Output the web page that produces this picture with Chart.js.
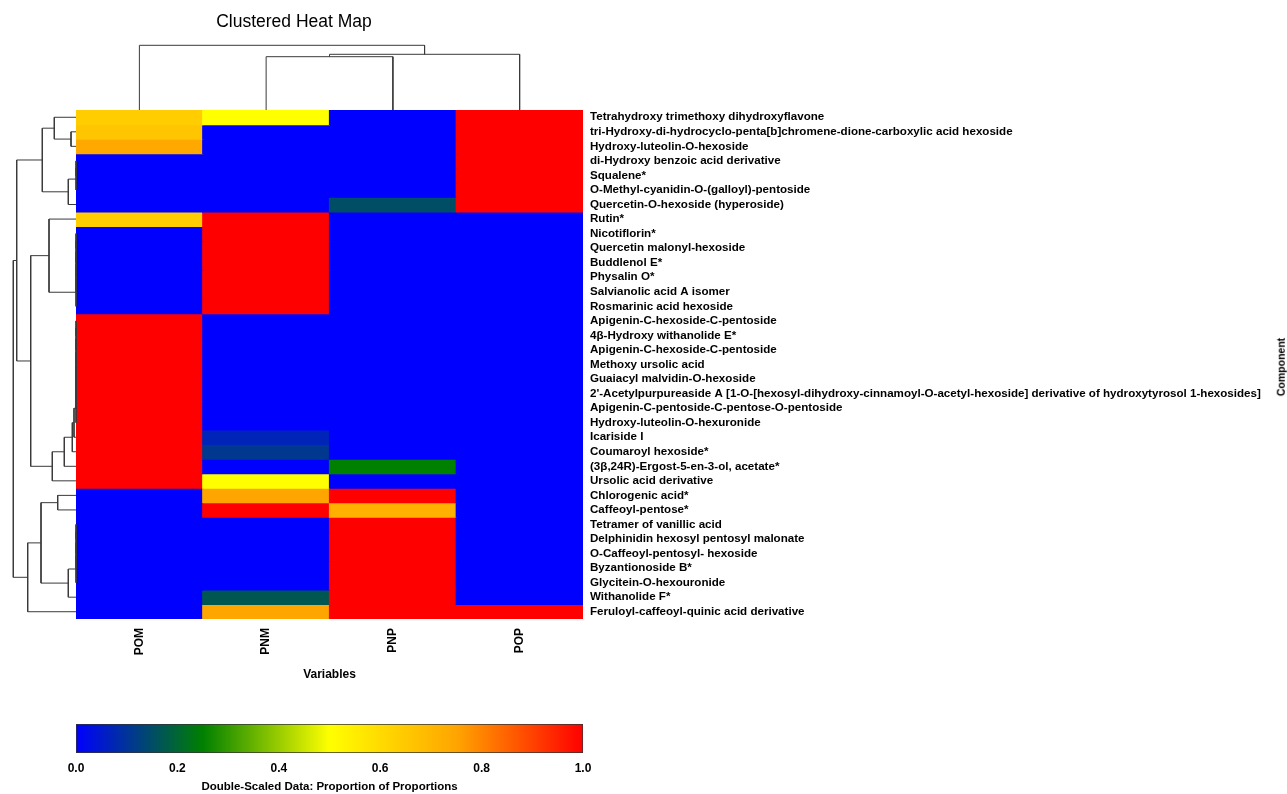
<!DOCTYPE html>
<html>
<head>
<meta charset="utf-8">
<title>Clustered Heat Map</title>
<script src="https://cdn.jsdelivr.net/npm/chart.js@4.4.1/dist/chart.umd.min.js"></script>
<style>
  html, body { margin: 0; padding: 0; background: #ffffff; }
  #wrap { position: relative; width: 1287px; height: 794px; overflow: hidden;
          font-family: "Liberation Sans", Arial, Helvetica, sans-serif; }
  #wrap canvas { position: absolute; }
  .txt { position: absolute; white-space: nowrap; color: #000; line-height: 1; }
</style>
</head>
<body>
<div id="wrap">
  <canvas id="heat" width="1287" height="794" style="left:0;top:0"></canvas>
  <canvas id="rowTree" width="100" height="794" style="left:0;top:0"></canvas>
  <canvas id="colTree" width="660" height="120" style="left:0;top:0"></canvas>
  <canvas id="scaleBar" width="660" height="94" style="left:0;top:700px"></canvas>
  <div class="txt" id="mainTitle" style="left:294px;top:22px;font-size:17.5px;transform:translate(-50%,-50%);">Clustered Heat Map</div>
  <div class="txt" id="rowTitle" style="left:1281px;top:367px;font-size:10.5px;font-weight:bold;transform:translate(-50%,-50%) rotate(-90deg);">Component</div>
</div>

<script>
// ---- data ----
const columns = ['POM', 'PNM', 'PNP', 'POP'];

const components = [
  'Tetrahydroxy trimethoxy dihydroxyflavone',
  'tri-Hydroxy-di-hydrocyclo-penta[b]chromene-dione-carboxylic acid hexoside',
  'Hydroxy-luteolin-O-hexoside',
  'di-Hydroxy benzoic acid derivative',
  'Squalene*',
  'O-Methyl-cyanidin-O-(galloyl)-pentoside',
  'Quercetin-O-hexoside (hyperoside)',
  'Rutin*',
  'Nicotiflorin*',
  'Quercetin malonyl-hexoside',
  'Buddlenol E*',
  'Physalin O*',
  'Salvianolic acid A isomer',
  'Rosmarinic acid hexoside',
  'Apigenin-C-hexoside-C-pentoside',
  '4\u03b2-Hydroxy withanolide E*',
  'Apigenin-C-hexoside-C-pentoside',
  'Methoxy ursolic acid',
  'Guaiacyl malvidin-O-hexoside',
  "2'-Acetylpurpureaside A [1-O-[hexosyl-dihydroxy-cinnamoyl-O-acetyl-hexoside] derivative of hydroxytyrosol 1-hexosides]",
  'Apigenin-C-pentoside-C-pentose-O-pentoside',
  'Hydroxy-luteolin-O-hexuronide',
  'Icariside I',
  'Coumaroyl hexoside*',
  '(3\u03b2,24R)-Ergost-5-en-3-ol, acetate*',
  'Ursolic acid derivative',
  'Chlorogenic acid*',
  'Caffeoyl-pentose*',
  'Tetramer of vanillic acid',
  'Delphinidin hexosyl pentosyl malonate',
  'O-Caffeoyl-pentosyl- hexoside',
  'Byzantionoside B*',
  'Glycitein-O-hexouronide',
  'Withanolide F*',
  'Feruloyl-caffeoyl-quinic acid derivative'
];

// double-scaled proportions, one array per variable (rows follow `components`)
const pom = [0.64, 0.66, 0.74, 0, 0, 0, 0, 0.64, 0, 0, 0, 0, 0, 0,
             1, 1, 1, 1, 1, 1, 1, 1, 1, 1, 1, 1,
             0, 0, 0, 0, 0, 0, 0, 0, 0];
const pnm = [0.50, 0, 0, 0, 0, 0, 0, 1, 1, 1, 1, 1, 1, 1,
             0, 0, 0, 0, 0, 0, 0, 0, 0.07, 0.11, 0, 0.50,
             0.75, 1, 0, 0, 0, 0, 0, 0.17, 0.75];
const pnp = [0, 0, 0, 0, 0, 0, 0.15, 0, 0, 0, 0, 0, 0, 0,
             0, 0, 0, 0, 0, 0, 0, 0, 0, 0, 0.25, 0,
             1, 0.72, 1, 1, 1, 1, 1, 1, 1];
const pop = [1, 1, 1, 1, 1, 1, 1, 0, 0, 0, 0, 0, 0, 0,
             0, 0, 0, 0, 0, 0, 0, 0, 0, 0, 0, 0,
             0, 0, 0, 0, 0, 0, 0, 0, 1];

// row clustering: merge pairs (negative = row number, positive = earlier merge step) and heights
const rowMerges = [
  [-2, -3], [-1, 1], [-4, -5], [3, -6], [4, -7], [2, 5],
  [-9, -10], [7, -11], [8, -12], [9, -13], [10, -14], [-8, 11],
  [-15, -16], [13, -17], [14, -18], [15, -19], [16, -20], [17, -21], [18, -22],
  [19, -23], [20, -24], [21, -25], [22, -26], [12, 23], [6, 24],
  [-27, -28], [-29, -30], [27, -31], [28, -32], [29, -33], [30, -34],
  [26, 31], [32, -35], [25, 33]
];
const rowHeights = [
  5.0, 21.7, 0, 0, 7.7, 33.7,
  0, 0, 0, 0, 0, 27.0,
  0, 0, 0, 0, 0, 0, 0,
  2.0, 3.7, 11.7, 23.7, 45.3, 59.3,
  18.3, 0, 0, 0, 0, 7.7,
  35.0, 48.3, 62.7
];

// column clustering
const colMerges = [[-2, -3], [1, -4], [-1, 2]];
const colHeights = [53.3, 55.7, 64.7];

// colour scale and its tick values
const colorStops = [[0, '#0000ff'], [0.25, '#008000'], [0.5, '#ffff00'], [0.75, '#ffa500'], [1, '#ff0000']];
const scaleTicks = [0, 0.2, 0.4, 0.6, 0.8, 1.0];

// ---- helpers ----
const FONT = '"Liberation Sans", Arial, Helvetica, sans-serif';
const LINE = '#3a3a3a';

function hexToRgb(h) {
  return [parseInt(h.slice(1, 3), 16), parseInt(h.slice(3, 5), 16), parseInt(h.slice(5, 7), 16)];
}
function colorFor(v) {
  for (let i = 1; i < colorStops.length; i++) {
    const [t0, c0] = colorStops[i - 1];
    const [t1, c1] = colorStops[i];
    if (v <= t1 || i === colorStops.length - 1) {
      const f = Math.max(0, Math.min(1, (v - t0) / (t1 - t0)));
      const a = hexToRgb(c0), b = hexToRgb(c1);
      const rgb = a.map((x, k) => Math.round(x + (b[k] - x) * f));
      return `rgb(${rgb[0]},${rgb[1]},${rgb[2]})`;
    }
  }
  return colorStops[colorStops.length - 1][1];
}

// turn a merge table into dendrogram elbows: [{h, p}, ...] (h = height, p = leaf position)
function dendrogram(merges, heights) {
  const pos = [];
  const segs = [];
  const at = (m) => (m < 0 ? { p: -m - 0.5, h: 0 } : { p: pos[m - 1], h: heights[m - 1] });
  merges.forEach(([a, b], k) => {
    const A = at(a), B = at(b), H = heights[k];
    segs.push([{ h: A.h, p: A.p }, { h: H, p: A.p }, { h: H, p: B.p }, { h: B.h, p: B.p }]);
    pos[k] = (A.p + B.p) / 2;
  });
  return segs;
}

const base = {
  responsive: false,
  animation: false,
  events: [],
  plugins: { legend: { display: false }, tooltip: { enabled: false }, title: { display: false } }
};

// ---- heat map ----
const byColumn = [pom, pnm, pnp, pop];
const heatDatasets = components.map((name, i) => ({
  label: name,
  data: columns.map(() => 1),
  backgroundColor: byColumn.map(col => colorFor(col[i])),
  borderWidth: 0,
  inflateAmount: 0.6,
  barPercentage: 1,
  categoryPercentage: 1
}));

new Chart(document.getElementById('heat'), {
  type: 'bar',
  data: { labels: columns, datasets: heatDatasets },
  options: Object.assign({}, base, {
    layout: { padding: { left: 76, top: 110, right: 0, bottom: 0 } },
    scales: {
      x: {
        stacked: true,
        grid: { display: false, drawTicks: false },
        border: { display: false },
        ticks: { minRotation: 90, maxRotation: 90, padding: 9, color: '#000',
                 font: { family: FONT, size: 12, weight: 'bold' } },
        title: { display: true, text: 'Variables', color: '#000',
                 font: { family: FONT, size: 12, weight: 'bold' }, padding: { top: 0, bottom: 112 } },
        afterFit(s) { s.height = 175; }
      },
      y: {
        stacked: true,
        position: 'right',
        reverse: true,
        min: 0,
        max: components.length,
        grid: { display: false, drawTicks: false },
        border: { display: false },
        afterBuildTicks(s) { s.ticks = components.map((_, i) => ({ value: i + 0.5 })); },
        ticks: { autoSkip: false, padding: 7, color: '#000',
                 font: { family: FONT, size: 11.6, weight: 'bold' },
                 callback: (v, i) => components[i] },
        afterFit(s) { s.width = 704; }
      }
    }
  })
});

// ---- row dendrogram ----
const rowSegs = dendrogram(rowMerges, rowHeights);
new Chart(document.getElementById('rowTree'), {
  type: 'scatter',
  data: {
    datasets: rowSegs.map(seg => ({
      data: seg.map(q => ({ x: q.h, y: q.p })),
      showLine: true, borderColor: LINE, borderWidth: 1, pointRadius: 0, clip: false, tension: 0
    }))
  },
  options: Object.assign({}, base, {
    layout: { padding: { left: 13.3, right: 24, top: 110, bottom: 175 } },
    scales: {
      x: { type: 'linear', display: false, reverse: true, min: 0, max: Math.max(...rowHeights) },
      y: { type: 'linear', display: false, reverse: true, min: 0, max: components.length }
    }
  })
});

// ---- column dendrogram ----
const colSegs = dendrogram(colMerges, colHeights);
new Chart(document.getElementById('colTree'), {
  type: 'scatter',
  data: {
    datasets: colSegs.map(seg => ({
      data: seg.map(q => ({ x: q.p, y: q.h })),
      showLine: true, borderColor: LINE, borderWidth: 1, pointRadius: 0, clip: false, tension: 0
    }))
  },
  options: Object.assign({}, base, {
    layout: { padding: { left: 76, right: 77, top: 45.3, bottom: 10 } },
    scales: {
      x: { type: 'linear', display: false, min: 0, max: columns.length },
      y: { type: 'linear', display: false, min: 0, max: Math.max(...colHeights) }
    }
  })
});

// ---- colour key ----
new Chart(document.getElementById('scaleBar'), {
  type: 'bar',
  data: {
    labels: ['key'],
    datasets: [{
      data: [[scaleTicks[0], scaleTicks[scaleTicks.length - 1]]],
      backgroundColor(ctx) {
        const area = ctx.chart.chartArea;
        if (!area) return colorStops[0][1];
        const g = ctx.chart.ctx.createLinearGradient(area.left, 0, area.right, 0);
        colorStops.forEach(([t, c]) => g.addColorStop(t, c));
        return g;
      },
      borderColor: '#333333',
      borderWidth: 1,
      borderSkipped: false,
      barPercentage: 1,
      categoryPercentage: 1
    }]
  },
  options: Object.assign({}, base, {
    indexAxis: 'y',
    layout: { padding: { left: 76, right: 77, top: 24, bottom: 0 } },
    scales: {
      x: {
        type: 'linear', min: 0, max: 1,
        grid: { display: false, drawTicks: false },
        border: { display: false },
        afterBuildTicks(s) { s.ticks = scaleTicks.map(v => ({ value: v })); },
        ticks: { padding: 8, color: '#000', font: { family: FONT, size: 12, weight: 'bold' },
                 callback: v => Number(v).toFixed(1) },
        title: { display: true, text: 'Double-Scaled Data: Proportion of Proportions', color: '#000',
                 font: { family: FONT, size: 11.5, weight: 'bold' }, padding: { top: 0, bottom: 0 } },
        afterFit(s) { s.height = 41; }
      },
      y: { display: false }
    }
  })
});
</script>
</body>
</html>
